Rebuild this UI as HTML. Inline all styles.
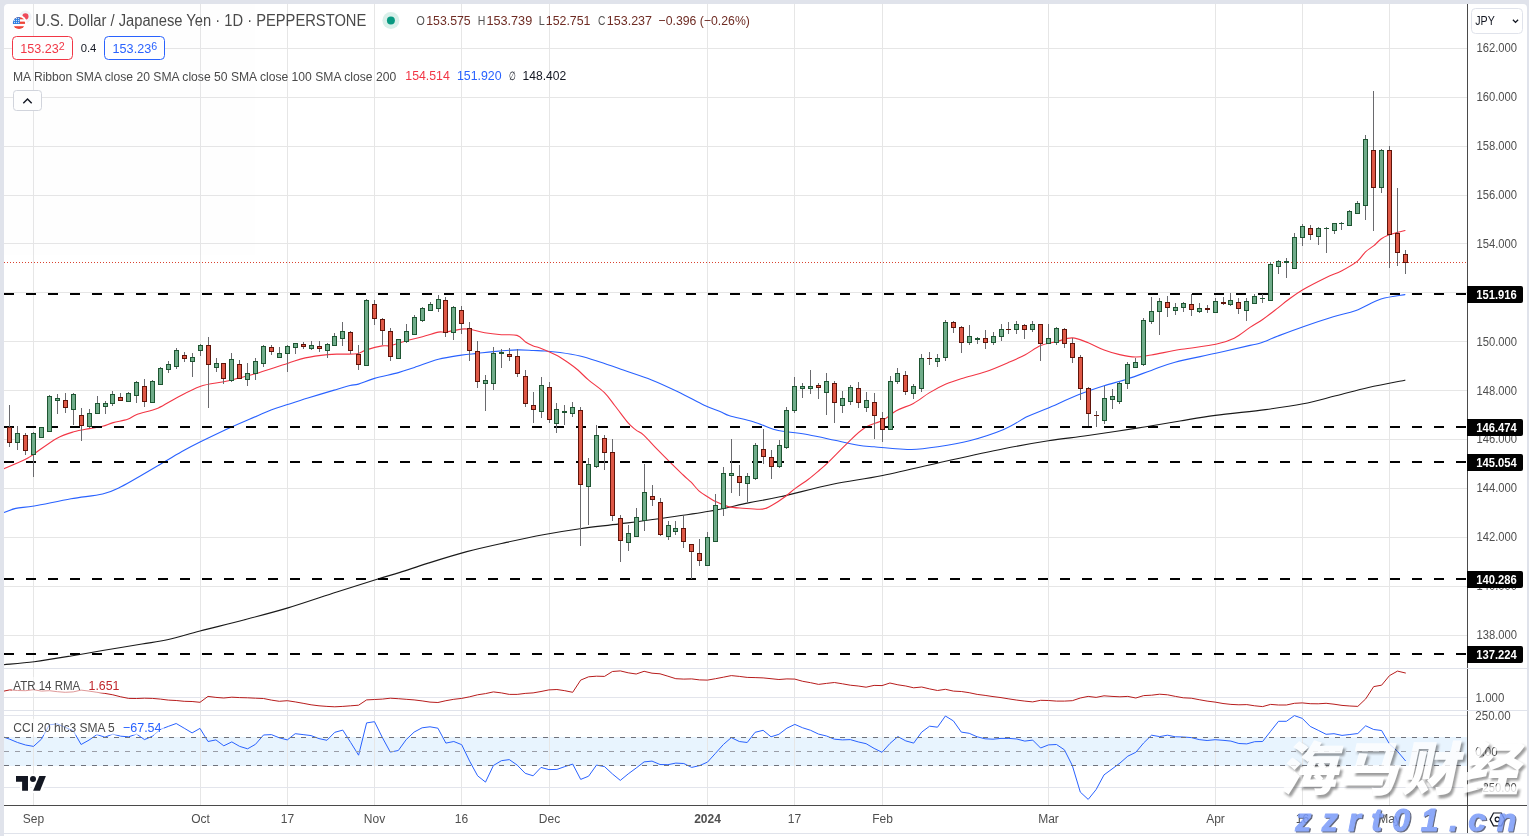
<!DOCTYPE html>
<html lang="en"><head><meta charset="utf-8"><title>USDJPY chart</title>
<style>html,body{margin:0;padding:0;background:#e0e3eb;}body{width:1529px;height:836px;position:relative;overflow:hidden;font-family:"Liberation Sans", Arial, sans-serif;}</style>
</head><body>
<svg width="1529" height="836" viewBox="0 0 1529 836" style="display:block;position:absolute;left:0;top:0;will-change:transform;opacity:0.9999" font-family='"Liberation Sans", Arial, sans-serif'>
<rect x="0" y="0" width="1529" height="836" fill="#e0e3eb"/>
<rect x="4" y="4" width="1523" height="832" fill="#ffffff"/>
<rect x="4" y="737" width="1463" height="29" fill="#e8f4fe"/>
<g fill="#e6e6e6" shape-rendering="crispEdges">
<rect x="33" y="4" width="1" height="801"/>
<rect x="200" y="4" width="1" height="801"/>
<rect x="287" y="4" width="1" height="801"/>
<rect x="374" y="4" width="1" height="801"/>
<rect x="461" y="4" width="1" height="801"/>
<rect x="549" y="4" width="1" height="801"/>
<rect x="707" y="4" width="1" height="801"/>
<rect x="794" y="4" width="1" height="801"/>
<rect x="882" y="4" width="1" height="801"/>
<rect x="1048" y="4" width="1" height="801"/>
<rect x="1215" y="4" width="1" height="801"/>
<rect x="1302" y="4" width="1" height="801"/>
<rect x="1389" y="4" width="1" height="801"/>
<rect x="4" y="48" width="1463" height="1"/>
<rect x="4" y="97" width="1463" height="1"/>
<rect x="4" y="146" width="1463" height="1"/>
<rect x="4" y="195" width="1463" height="1"/>
<rect x="4" y="243" width="1463" height="1"/>
<rect x="4" y="292" width="1463" height="1"/>
<rect x="4" y="341" width="1463" height="1"/>
<rect x="4" y="390" width="1463" height="1"/>
<rect x="4" y="439" width="1463" height="1"/>
<rect x="4" y="488" width="1463" height="1"/>
<rect x="4" y="537" width="1463" height="1"/>
<rect x="4" y="586" width="1463" height="1"/>
<rect x="4" y="635" width="1463" height="1"/>
<rect x="4" y="697" width="1463" height="1" fill="#e3e5ec"/>
<rect x="4" y="715" width="1463" height="1" fill="#e3e5ec"/>
<rect x="4" y="787" width="1463" height="1" fill="#e3e5ec"/>
</g>
<g fill="#e0e3eb" shape-rendering="crispEdges"><rect x="4" y="668" width="1523" height="1"/><rect x="4" y="710" width="1523" height="1"/></g>
<path d="M3.9 664.7C9.0 664.2 23.0 663.2 34.2 661.8C45.4 660.3 59.6 657.9 71.0 656.0C82.4 654.1 90.8 652.5 102.6 650.5C114.4 648.5 131.0 645.8 142.0 644.0C153.0 642.2 158.7 641.7 168.4 639.5C178.1 637.3 187.3 634.3 200.0 631.0C212.7 627.7 230.0 623.6 244.7 619.7C259.4 615.9 272.6 612.5 288.0 607.9C303.4 603.3 322.1 596.7 336.8 592.0C351.5 587.3 365.8 582.8 376.3 579.5C386.8 576.2 391.5 575.1 400.0 572.4C408.5 569.7 416.3 566.9 427.4 563.4C438.5 559.9 453.6 555.1 466.8 551.6C480.0 548.1 493.6 545.2 506.3 542.4C519.0 539.6 530.9 537.0 543.2 534.7C555.5 532.4 567.3 530.5 580.0 528.7C592.7 526.9 606.3 525.6 619.5 523.9C632.7 522.2 644.1 520.8 659.0 518.7C673.9 516.6 694.1 513.9 709.0 511.3C723.9 508.7 736.6 505.3 748.4 502.9C760.2 500.5 766.0 499.9 780.0 496.8C794.0 493.7 815.5 487.8 832.6 484.2C849.7 480.6 862.9 479.5 882.6 475.5C902.3 471.5 930.8 464.5 951.0 460.0C971.2 455.5 987.5 451.9 1003.7 448.7C1019.9 445.5 1034.4 443.0 1048.4 440.8C1062.4 438.6 1073.4 437.6 1087.9 435.5C1102.4 433.4 1120.0 430.8 1135.3 428.4C1150.6 426.0 1166.7 423.2 1180.0 421.0C1193.3 418.8 1201.0 417.3 1215.3 415.4C1229.5 413.5 1250.8 411.5 1265.5 409.6C1280.2 407.7 1291.5 406.1 1303.2 403.8C1314.9 401.5 1324.9 398.5 1335.8 395.8C1346.7 393.1 1357.0 390.1 1368.5 387.5C1380.0 384.9 1398.8 381.4 1404.9 380.2" fill="none" stroke="#1a1a1a" stroke-width="1.15" stroke-linejoin="round" stroke-linecap="round"/>
<path d="M3.9 512.6C5.9 511.9 10.8 509.5 15.8 508.4C20.9 507.3 25.0 507.6 34.2 506.0C43.4 504.4 59.6 500.7 71.0 498.7C82.4 496.7 94.3 496.0 102.6 494.0C110.9 492.0 114.4 490.0 121.0 486.8C127.6 483.6 134.5 479.3 142.0 475.0C149.5 470.7 158.8 465.1 165.8 461.0C172.8 456.9 178.5 453.4 184.2 450.3C189.9 447.2 193.2 445.5 200.0 442.1C206.8 438.7 216.7 433.9 225.0 430.0C233.3 426.1 242.3 422.3 250.0 419.0C257.7 415.7 264.8 412.4 271.0 410.0C277.2 407.6 281.2 406.6 287.4 404.6C293.5 402.6 300.1 400.4 307.9 398.0C315.7 395.6 327.2 392.2 334.2 390.1C341.2 388.0 346.0 386.5 350.0 385.5C354.0 384.5 354.3 385.3 358.4 384.1C362.5 382.9 367.8 380.3 374.5 378.4C381.2 376.5 391.7 374.4 398.4 372.6C405.1 370.8 407.8 369.6 414.5 367.4C421.2 365.2 430.6 361.4 438.4 359.3C446.2 357.2 454.9 356.1 461.4 355.1C467.9 354.1 472.2 354.0 477.5 353.4C482.8 352.8 486.8 352.2 493.4 351.6C500.0 351.0 510.3 350.1 517.0 349.9C523.7 349.7 528.7 350.3 533.4 350.5C538.1 350.7 540.6 350.7 545.0 351.0C549.4 351.3 554.2 351.7 560.0 352.5C565.8 353.3 573.3 354.4 580.0 356.0C586.7 357.6 592.8 359.7 600.0 362.0C607.2 364.3 614.7 367.0 623.3 370.0C631.9 373.0 642.5 376.3 651.6 379.9C660.7 383.5 669.1 387.5 677.9 391.7C686.7 395.9 697.2 402.0 704.2 405.3C711.2 408.6 715.8 409.7 720.0 411.4C724.2 413.1 724.0 414.0 729.5 415.7C735.0 417.4 745.8 419.5 753.2 421.8C760.7 424.1 768.5 427.8 774.2 429.5C779.9 431.2 781.7 430.9 787.4 431.8C793.1 432.7 800.5 433.3 808.4 434.7C816.3 436.1 826.4 438.5 834.7 440.3C843.0 442.1 851.8 444.2 858.4 445.3C865.0 446.4 868.9 446.3 874.2 446.8C879.5 447.3 883.8 447.8 890.0 448.2C896.2 448.6 903.6 449.7 911.6 449.5C919.6 449.3 928.2 448.2 937.9 446.8C947.5 445.4 958.5 443.7 969.5 440.8C980.5 437.9 994.1 433.5 1003.7 429.5C1013.4 425.5 1020.0 420.2 1027.4 416.6C1034.9 413.0 1039.6 411.6 1048.4 407.9C1057.2 404.1 1071.0 397.8 1080.3 394.1C1089.6 390.4 1096.2 388.3 1104.1 385.8C1112.0 383.3 1119.7 381.5 1127.6 378.9C1135.5 376.3 1143.4 373.2 1151.3 370.4C1159.2 367.6 1164.2 365.0 1175.0 362.2C1185.8 359.4 1203.3 356.1 1215.8 353.3C1228.3 350.5 1242.5 347.1 1250.0 345.4C1257.5 343.7 1255.8 344.6 1260.5 343.0C1265.2 341.4 1270.9 338.7 1278.0 336.0C1285.1 333.3 1294.0 329.9 1303.2 326.7C1312.4 323.5 1324.5 319.4 1333.3 316.7C1342.1 314.0 1348.0 313.3 1356.0 310.4C1364.0 307.4 1372.8 301.6 1381.0 299.0C1389.2 296.4 1400.9 295.3 1404.9 294.6" fill="none" stroke="#2962ff" stroke-width="1.1" stroke-linejoin="round" stroke-linecap="round"/>
<path d="M3.9 468.7C7.4 467.2 20.1 461.9 25.0 459.5C29.9 457.1 28.3 457.7 33.6 454.2C38.9 450.7 49.9 442.1 56.6 438.4C63.3 434.7 68.2 433.4 73.7 431.8C79.2 430.2 84.7 429.5 89.5 428.6C94.3 427.7 98.6 427.3 102.6 426.3C106.5 425.3 109.0 423.8 113.2 422.6C117.4 421.4 123.7 420.7 127.6 419.3C131.5 417.9 131.8 416.4 136.8 414.5C141.9 412.6 151.3 410.9 157.9 408.2C164.5 405.4 169.3 401.6 176.3 398.0C183.3 394.4 192.1 389.1 200.0 386.4C207.9 383.7 217.1 383.2 223.7 381.8C230.3 380.4 234.2 379.2 239.5 377.9C244.8 376.5 247.3 376.1 255.3 373.7C263.3 371.3 279.1 366.0 287.4 363.4C295.7 360.8 298.6 359.4 305.3 357.9C312.0 356.4 321.8 355.2 327.6 354.6C333.4 354.0 335.1 354.2 340.0 354.1C344.9 354.0 352.7 354.5 357.1 353.8C361.5 353.1 362.1 351.2 366.3 349.9C370.5 348.6 378.1 346.6 382.1 345.9C386.1 345.2 386.3 346.4 390.4 345.5C394.4 344.6 401.0 342.2 406.4 340.7C411.8 339.2 417.2 338.1 422.5 336.7C427.8 335.3 434.6 332.9 438.4 332.1C442.2 331.3 441.7 332.6 445.5 332.1C449.3 331.6 457.4 329.6 461.4 329.1C465.4 328.6 465.6 328.6 469.5 329.2C473.4 329.8 479.4 331.9 484.7 332.8C490.0 333.7 496.0 334.3 501.4 334.7C506.8 335.1 513.0 334.2 517.0 335.4C521.0 336.6 522.8 340.2 525.5 342.0C528.2 343.8 531.0 344.9 533.4 345.9C535.8 346.9 536.2 346.4 540.0 347.9C543.8 349.4 551.3 352.6 556.0 355.0C560.7 357.4 564.4 360.0 568.0 362.5C571.6 365.0 574.5 367.1 577.9 370.0C581.3 372.9 584.0 376.2 588.4 379.9C592.8 383.6 599.8 388.1 604.2 392.4C608.6 396.7 610.8 400.5 614.7 405.5C618.7 410.5 624.4 418.5 627.9 422.6C631.4 426.7 633.2 427.8 635.8 429.9C638.4 432.0 640.2 431.9 643.7 435.1C647.2 438.3 652.6 444.6 656.8 448.9C661.0 453.2 664.3 456.4 668.7 460.8C673.1 465.2 679.5 471.4 683.2 475.0C686.9 478.6 688.5 479.6 691.1 482.2C693.7 484.8 696.2 488.4 698.9 490.8C701.6 493.2 704.7 494.9 707.5 496.7C710.3 498.5 712.0 499.9 715.5 501.5C719.0 503.1 723.7 505.5 728.2 506.6C732.7 507.7 736.9 507.8 742.6 508.2C748.3 508.6 757.6 509.6 762.4 509.1C767.2 508.7 767.9 507.5 771.6 505.5C775.3 503.5 780.8 499.9 784.7 497.0C788.7 494.1 791.3 491.4 795.3 488.4C799.2 485.4 804.3 482.3 808.4 479.2C812.5 476.1 816.4 472.7 819.6 470.0C822.8 467.3 822.6 467.8 827.4 463.2C832.2 458.6 842.3 447.9 848.4 442.1C854.5 436.3 858.4 431.9 864.2 428.2C870.0 424.5 877.9 422.9 883.2 420.0C888.6 417.1 891.3 413.5 896.3 410.7C901.3 407.9 907.9 406.4 913.4 403.4C918.9 400.4 923.9 396.1 929.2 392.9C934.5 389.7 939.9 386.7 945.4 384.3C950.9 381.9 955.4 380.5 962.1 378.4C968.8 376.3 977.8 374.4 985.5 371.8C993.2 369.2 1001.6 365.5 1008.2 362.6C1014.8 359.8 1019.9 357.6 1025.3 354.7C1030.7 351.8 1035.5 347.7 1040.7 345.5C1045.9 343.3 1051.1 342.9 1056.4 341.6C1061.7 340.3 1067.1 337.7 1072.4 337.9C1077.7 338.1 1082.9 340.8 1088.2 342.8C1093.5 344.8 1098.8 348.0 1104.1 350.0C1109.3 352.0 1114.5 353.4 1119.7 354.6C1124.9 355.8 1130.2 356.9 1135.5 357.0C1140.8 357.1 1143.6 356.3 1151.3 355.0C1159.0 353.7 1170.8 351.1 1181.6 349.3C1192.3 347.5 1207.0 346.2 1215.8 344.3C1224.6 342.4 1228.5 341.0 1234.2 338.2C1239.9 335.4 1245.2 330.6 1250.0 327.4C1254.8 324.2 1258.3 322.4 1263.0 319.2C1267.7 315.9 1273.8 311.1 1278.0 307.9C1282.2 304.7 1283.8 303.0 1287.9 300.0C1292.0 297.0 1296.0 293.8 1302.4 290.0C1308.8 286.2 1319.8 280.7 1326.3 277.5C1332.8 274.3 1336.2 273.6 1341.4 270.9C1346.6 268.2 1353.5 264.3 1357.5 261.1C1361.5 257.9 1362.8 254.3 1365.5 251.8C1368.2 249.3 1370.9 248.1 1373.6 245.9C1376.2 243.7 1378.8 240.6 1381.4 238.7C1384.1 236.8 1386.8 235.8 1389.5 234.7C1392.2 233.6 1394.9 233.1 1397.5 232.4C1400.1 231.7 1403.8 230.8 1405.0 230.5" fill="none" stroke="#f23645" stroke-width="1.1" stroke-linejoin="round" stroke-linecap="round"/>
<g stroke="#000" stroke-width="2" stroke-dasharray="10 12" shape-rendering="crispEdges">
<line x1="4" y1="294" x2="1467" y2="294"/>
<line x1="4" y1="427" x2="1467" y2="427"/>
<line x1="4" y1="462" x2="1467" y2="462"/>
<line x1="4" y1="579" x2="1467" y2="579"/>
<line x1="4" y1="654" x2="1467" y2="654"/>
</g>
<line x1="4" y1="262.5" x2="1467" y2="262.5" stroke="#d9422f" stroke-width="1" stroke-dasharray="1 2" shape-rendering="crispEdges"/>
<g fill="#6a6a6e" shape-rendering="crispEdges"><rect x="9" y="405" width="1" height="42"/><rect x="17" y="426" width="1" height="24"/><rect x="25" y="433" width="1" height="22"/><rect x="33" y="432" width="1" height="45"/><rect x="41" y="427" width="1" height="11"/><rect x="49" y="395" width="1" height="37"/><rect x="57" y="394" width="1" height="20"/><rect x="65" y="393" width="1" height="20"/><rect x="73" y="393" width="1" height="32"/><rect x="81" y="408" width="1" height="33"/><rect x="89" y="409" width="1" height="19"/><rect x="97" y="396" width="1" height="18"/><rect x="105" y="401" width="1" height="13"/><rect x="112" y="391" width="1" height="15"/><rect x="120" y="393" width="1" height="8"/><rect x="128" y="392" width="1" height="10"/><rect x="136" y="381" width="1" height="22"/><rect x="144" y="379" width="1" height="28"/><rect x="152" y="380" width="1" height="23"/><rect x="160" y="367" width="1" height="18"/><rect x="168" y="361" width="1" height="12"/><rect x="176" y="348" width="1" height="21"/><rect x="184" y="352" width="1" height="10"/><rect x="192" y="353" width="1" height="24"/><rect x="200" y="344" width="1" height="12"/><rect x="208" y="337" width="1" height="71"/><rect x="216" y="358" width="1" height="14"/><rect x="223" y="363" width="1" height="21"/><rect x="231" y="353" width="1" height="29"/><rect x="239" y="360" width="1" height="19"/><rect x="247" y="363" width="1" height="23"/><rect x="255" y="358" width="1" height="22"/><rect x="263" y="345" width="1" height="22"/><rect x="271" y="345" width="1" height="10"/><rect x="279" y="347" width="1" height="11"/><rect x="287" y="345" width="1" height="27"/><rect x="295" y="343" width="1" height="11"/><rect x="303" y="342" width="1" height="7"/><rect x="311" y="341" width="1" height="9"/><rect x="319" y="341" width="1" height="11"/><rect x="327" y="343" width="1" height="15"/><rect x="334" y="333" width="1" height="13"/><rect x="342" y="322" width="1" height="24"/><rect x="350" y="331" width="1" height="23"/><rect x="358" y="345" width="1" height="25"/><rect x="366" y="299" width="1" height="67"/><rect x="374" y="300" width="1" height="25"/><rect x="382" y="318" width="1" height="27"/><rect x="390" y="328" width="1" height="33"/><rect x="398" y="339" width="1" height="20"/><rect x="406" y="324" width="1" height="19"/><rect x="414" y="315" width="1" height="20"/><rect x="422" y="307" width="1" height="15"/><rect x="430" y="302" width="1" height="9"/><rect x="438" y="295" width="1" height="17"/><rect x="445" y="297" width="1" height="40"/><rect x="453" y="306" width="1" height="34"/><rect x="461" y="306" width="1" height="28"/><rect x="469" y="322" width="1" height="39"/><rect x="477" y="341" width="1" height="47"/><rect x="485" y="375" width="1" height="36"/><rect x="493" y="347" width="1" height="43"/><rect x="501" y="349" width="1" height="19"/><rect x="509" y="348" width="1" height="13"/><rect x="517" y="349" width="1" height="28"/><rect x="525" y="370" width="1" height="37"/><rect x="533" y="392" width="1" height="31"/><rect x="541" y="377" width="1" height="41"/><rect x="549" y="382" width="1" height="41"/><rect x="556" y="403" width="1" height="30"/><rect x="564" y="405" width="1" height="20"/><rect x="572" y="402" width="1" height="15"/><rect x="580" y="407" width="1" height="139"/><rect x="588" y="458" width="1" height="67"/><rect x="596" y="425" width="1" height="43"/><rect x="604" y="435" width="1" height="35"/><rect x="612" y="439" width="1" height="82"/><rect x="620" y="515" width="1" height="47"/><rect x="628" y="525" width="1" height="26"/><rect x="636" y="508" width="1" height="29"/><rect x="644" y="464" width="1" height="67"/><rect x="652" y="485" width="1" height="21"/><rect x="660" y="498" width="1" height="38"/><rect x="668" y="521" width="1" height="19"/><rect x="675" y="521" width="1" height="14"/><rect x="683" y="516" width="1" height="32"/><rect x="691" y="544" width="1" height="35"/><rect x="699" y="539" width="1" height="27"/><rect x="707" y="532" width="1" height="34"/><rect x="715" y="494" width="1" height="48"/><rect x="723" y="467" width="1" height="49"/><rect x="731" y="439" width="1" height="54"/><rect x="739" y="465" width="1" height="31"/><rect x="747" y="473" width="1" height="29"/><rect x="755" y="443" width="1" height="37"/><rect x="763" y="429" width="1" height="35"/><rect x="771" y="450" width="1" height="29"/><rect x="779" y="440" width="1" height="28"/><rect x="786" y="407" width="1" height="42"/><rect x="794" y="377" width="1" height="36"/><rect x="802" y="383" width="1" height="15"/><rect x="810" y="370" width="1" height="24"/><rect x="818" y="383" width="1" height="16"/><rect x="826" y="373" width="1" height="42"/><rect x="834" y="381" width="1" height="42"/><rect x="842" y="391" width="1" height="22"/><rect x="850" y="385" width="1" height="20"/><rect x="858" y="382" width="1" height="26"/><rect x="866" y="392" width="1" height="20"/><rect x="874" y="393" width="1" height="46"/><rect x="882" y="412" width="1" height="30"/><rect x="890" y="376" width="1" height="54"/><rect x="897" y="368" width="1" height="16"/><rect x="905" y="371" width="1" height="24"/><rect x="913" y="384" width="1" height="15"/><rect x="921" y="354" width="1" height="38"/><rect x="929" y="352" width="1" height="13"/><rect x="937" y="354" width="1" height="13"/><rect x="945" y="320" width="1" height="41"/><rect x="953" y="321" width="1" height="12"/><rect x="961" y="326" width="1" height="27"/><rect x="969" y="325" width="1" height="20"/><rect x="977" y="337" width="1" height="7"/><rect x="985" y="330" width="1" height="19"/><rect x="993" y="332" width="1" height="13"/><rect x="1001" y="324" width="1" height="17"/><rect x="1008" y="322" width="1" height="12"/><rect x="1016" y="321" width="1" height="13"/><rect x="1024" y="324" width="1" height="15"/><rect x="1032" y="321" width="1" height="11"/><rect x="1040" y="324" width="1" height="37"/><rect x="1048" y="324" width="1" height="20"/><rect x="1056" y="327" width="1" height="18"/><rect x="1064" y="328" width="1" height="20"/><rect x="1072" y="338" width="1" height="25"/><rect x="1080" y="355" width="1" height="45"/><rect x="1088" y="387" width="1" height="39"/><rect x="1096" y="411" width="1" height="16"/><rect x="1104" y="386" width="1" height="38"/><rect x="1112" y="389" width="1" height="20"/><rect x="1119" y="382" width="1" height="22"/><rect x="1127" y="362" width="1" height="27"/><rect x="1135" y="358" width="1" height="10"/><rect x="1143" y="318" width="1" height="48"/><rect x="1151" y="297" width="1" height="27"/><rect x="1159" y="298" width="1" height="37"/><rect x="1167" y="296" width="1" height="21"/><rect x="1175" y="303" width="1" height="12"/><rect x="1183" y="302" width="1" height="10"/><rect x="1191" y="294" width="1" height="22"/><rect x="1199" y="303" width="1" height="10"/><rect x="1207" y="305" width="1" height="8"/><rect x="1215" y="298" width="1" height="15"/><rect x="1223" y="297" width="1" height="8"/><rect x="1230" y="293" width="1" height="13"/><rect x="1238" y="298" width="1" height="16"/><rect x="1246" y="298" width="1" height="23"/><rect x="1254" y="294" width="1" height="10"/><rect x="1262" y="294" width="1" height="9"/><rect x="1270" y="262" width="1" height="39"/><rect x="1278" y="260" width="1" height="14"/><rect x="1286" y="258" width="1" height="20"/><rect x="1294" y="233" width="1" height="36"/><rect x="1302" y="224" width="1" height="22"/><rect x="1310" y="225" width="1" height="15"/><rect x="1318" y="227" width="1" height="18"/><rect x="1326" y="227" width="1" height="26"/><rect x="1334" y="223" width="1" height="11"/><rect x="1341" y="222" width="1" height="8"/><rect x="1349" y="210" width="1" height="16"/><rect x="1357" y="201" width="1" height="13"/><rect x="1365" y="135" width="1" height="85"/><rect x="1373" y="91" width="1" height="140"/><rect x="1381" y="149" width="1" height="44"/><rect x="1389" y="146" width="1" height="122"/><rect x="1397" y="188" width="1" height="78"/><rect x="1405" y="250" width="1" height="24"/></g>
<g fill="#70ac8a" stroke="#1e5532" stroke-width="1" shape-rendering="crispEdges"><rect x="15.5" y="433.5" width="4" height="9"/><rect x="31.5" y="433.5" width="4" height="21"/><rect x="39.5" y="427.5" width="4" height="10"/><rect x="47.5" y="396.5" width="4" height="35"/><rect x="55.5" y="398.5" width="4" height="2"/><rect x="71.5" y="394.5" width="4" height="15"/><rect x="87.5" y="413.5" width="4" height="13"/><rect x="95.5" y="403.5" width="4" height="10"/><rect x="103.5" y="403.5" width="4" height="3"/><rect x="110.5" y="394.5" width="4" height="9"/><rect x="126.5" y="393.5" width="4" height="8"/><rect x="134.5" y="382.5" width="4" height="13"/><rect x="150.5" y="381.5" width="4" height="21"/><rect x="158.5" y="368.5" width="4" height="16"/><rect x="166.5" y="364.5" width="4" height="5"/><rect x="174.5" y="350.5" width="4" height="16"/><rect x="190.5" y="357.5" width="4" height="4"/><rect x="198.5" y="345.5" width="4" height="5"/><rect x="214.5" y="363.5" width="4" height="4"/><rect x="229.5" y="359.5" width="4" height="21"/><rect x="245.5" y="373.5" width="4" height="6"/><rect x="253.5" y="361.5" width="4" height="12"/><rect x="261.5" y="346.5" width="4" height="17"/><rect x="277.5" y="353.5" width="4" height="4"/><rect x="285.5" y="346.5" width="4" height="7"/><rect x="293.5" y="343.5" width="4" height="4"/><rect x="309.5" y="345.5" width="4" height="3"/><rect x="325.5" y="344.5" width="4" height="6"/><rect x="332.5" y="336.5" width="4" height="9"/><rect x="340.5" y="331.5" width="4" height="7"/><rect x="364.5" y="300.5" width="4" height="65"/><rect x="396.5" y="339.5" width="4" height="19"/><rect x="404.5" y="331.5" width="4" height="10"/><rect x="412.5" y="317.5" width="4" height="17"/><rect x="420.5" y="308.5" width="4" height="12"/><rect x="428.5" y="304.5" width="4" height="6"/><rect x="436.5" y="299.5" width="4" height="9"/><rect x="451.5" y="307.5" width="4" height="25"/><rect x="483.5" y="380.5" width="4" height="3"/><rect x="491.5" y="353.5" width="4" height="30"/><rect x="499.5" y="352.5" width="4" height="1"/><rect x="539.5" y="385.5" width="4" height="26"/><rect x="554.5" y="409.5" width="4" height="14"/><rect x="562.5" y="411.5" width="4" height="1"/><rect x="570.5" y="407.5" width="4" height="6"/><rect x="586.5" y="464.5" width="4" height="22"/><rect x="594.5" y="435.5" width="4" height="31"/><rect x="626.5" y="533.5" width="4" height="9"/><rect x="634.5" y="517.5" width="4" height="19"/><rect x="642.5" y="492.5" width="4" height="28"/><rect x="666.5" y="525.5" width="4" height="11"/><rect x="673.5" y="528.5" width="4" height="3"/><rect x="705.5" y="537.5" width="4" height="28"/><rect x="713.5" y="505.5" width="4" height="36"/><rect x="721.5" y="473.5" width="4" height="35"/><rect x="729.5" y="473.5" width="4" height="2"/><rect x="745.5" y="476.5" width="4" height="7"/><rect x="753.5" y="445.5" width="4" height="33"/><rect x="777.5" y="445.5" width="4" height="21"/><rect x="784.5" y="410.5" width="4" height="37"/><rect x="792.5" y="386.5" width="4" height="24"/><rect x="800.5" y="386.5" width="4" height="2"/><rect x="808.5" y="386.5" width="4" height="2"/><rect x="824.5" y="381.5" width="4" height="11"/><rect x="840.5" y="398.5" width="4" height="7"/><rect x="848.5" y="387.5" width="4" height="14"/><rect x="864.5" y="400.5" width="4" height="7"/><rect x="888.5" y="381.5" width="4" height="48"/><rect x="895.5" y="373.5" width="4" height="8"/><rect x="911.5" y="386.5" width="4" height="7"/><rect x="919.5" y="358.5" width="4" height="30"/><rect x="935.5" y="358.5" width="4" height="3"/><rect x="943.5" y="322.5" width="4" height="35"/><rect x="967.5" y="336.5" width="4" height="6"/><rect x="975.5" y="338.5" width="4" height="1"/><rect x="991.5" y="336.5" width="4" height="6"/><rect x="999.5" y="329.5" width="4" height="7"/><rect x="1014.5" y="324.5" width="4" height="5"/><rect x="1030.5" y="324.5" width="4" height="5"/><rect x="1046.5" y="338.5" width="4" height="5"/><rect x="1054.5" y="328.5" width="4" height="14"/><rect x="1102.5" y="398.5" width="4" height="22"/><rect x="1110.5" y="396.5" width="4" height="3"/><rect x="1117.5" y="383.5" width="4" height="18"/><rect x="1125.5" y="364.5" width="4" height="19"/><rect x="1133.5" y="362.5" width="4" height="5"/><rect x="1141.5" y="320.5" width="4" height="44"/><rect x="1149.5" y="311.5" width="4" height="10"/><rect x="1157.5" y="301.5" width="4" height="10"/><rect x="1173.5" y="307.5" width="4" height="3"/><rect x="1181.5" y="303.5" width="4" height="4"/><rect x="1197.5" y="308.5" width="4" height="3"/><rect x="1213.5" y="301.5" width="4" height="11"/><rect x="1228.5" y="300.5" width="4" height="4"/><rect x="1244.5" y="301.5" width="4" height="9"/><rect x="1252.5" y="296.5" width="4" height="7"/><rect x="1268.5" y="264.5" width="4" height="36"/><rect x="1276.5" y="261.5" width="4" height="5"/><rect x="1284.5" y="261.5" width="4" height="1"/><rect x="1292.5" y="237.5" width="4" height="31"/><rect x="1300.5" y="226.5" width="4" height="11"/><rect x="1316.5" y="228.5" width="4" height="8"/><rect x="1332.5" y="223.5" width="4" height="7"/><rect x="1347.5" y="211.5" width="4" height="14"/><rect x="1355.5" y="203.5" width="4" height="10"/><rect x="1363.5" y="139.5" width="4" height="66"/><rect x="1379.5" y="150.5" width="4" height="37"/></g>
<g fill="#de5846" stroke="#5f140a" stroke-width="1" shape-rendering="crispEdges"><rect x="7.5" y="427.5" width="4" height="15"/><rect x="23.5" y="435.5" width="4" height="15"/><rect x="63.5" y="400.5" width="4" height="7"/><rect x="79.5" y="415.5" width="4" height="10"/><rect x="118.5" y="397.5" width="4" height="3"/><rect x="142.5" y="386.5" width="4" height="15"/><rect x="182.5" y="355.5" width="4" height="3"/><rect x="206.5" y="345.5" width="4" height="19"/><rect x="221.5" y="363.5" width="4" height="15"/><rect x="237.5" y="364.5" width="4" height="14"/><rect x="269.5" y="347.5" width="4" height="4"/><rect x="301.5" y="344.5" width="4" height="2"/><rect x="317.5" y="346.5" width="4" height="2"/><rect x="348.5" y="332.5" width="4" height="18"/><rect x="356.5" y="354.5" width="4" height="10"/><rect x="372.5" y="304.5" width="4" height="14"/><rect x="380.5" y="319.5" width="4" height="11"/><rect x="388.5" y="331.5" width="4" height="25"/><rect x="443.5" y="300.5" width="4" height="32"/><rect x="459.5" y="310.5" width="4" height="13"/><rect x="467.5" y="328.5" width="4" height="22"/><rect x="475.5" y="351.5" width="4" height="30"/><rect x="507.5" y="354.5" width="4" height="2"/><rect x="515.5" y="356.5" width="4" height="17"/><rect x="523.5" y="376.5" width="4" height="27"/><rect x="531.5" y="405.5" width="4" height="4"/><rect x="547.5" y="387.5" width="4" height="32"/><rect x="578.5" y="410.5" width="4" height="74"/><rect x="602.5" y="438.5" width="4" height="14"/><rect x="610.5" y="452.5" width="4" height="63"/><rect x="618.5" y="518.5" width="4" height="22"/><rect x="650.5" y="496.5" width="4" height="3"/><rect x="658.5" y="502.5" width="4" height="32"/><rect x="681.5" y="528.5" width="4" height="13"/><rect x="689.5" y="544.5" width="4" height="7"/><rect x="697.5" y="553.5" width="4" height="7"/><rect x="737.5" y="476.5" width="4" height="6"/><rect x="761.5" y="449.5" width="4" height="7"/><rect x="769.5" y="457.5" width="4" height="9"/><rect x="816.5" y="385.5" width="4" height="2"/><rect x="832.5" y="383.5" width="4" height="19"/><rect x="856.5" y="388.5" width="4" height="14"/><rect x="872.5" y="402.5" width="4" height="13"/><rect x="880.5" y="418.5" width="4" height="11"/><rect x="903.5" y="375.5" width="4" height="16"/><rect x="951.5" y="322.5" width="4" height="5"/><rect x="959.5" y="327.5" width="4" height="15"/><rect x="983.5" y="338.5" width="4" height="4"/><rect x="1022.5" y="325.5" width="4" height="4"/><rect x="1038.5" y="324.5" width="4" height="19"/><rect x="1062.5" y="329.5" width="4" height="14"/><rect x="1070.5" y="343.5" width="4" height="14"/><rect x="1078.5" y="357.5" width="4" height="31"/><rect x="1086.5" y="388.5" width="4" height="25"/><rect x="1165.5" y="302.5" width="4" height="5"/><rect x="1189.5" y="304.5" width="4" height="5"/><rect x="1205.5" y="308.5" width="4" height="1"/><rect x="1221.5" y="302.5" width="4" height="1"/><rect x="1236.5" y="302.5" width="4" height="6"/><rect x="1308.5" y="228.5" width="4" height="6"/><rect x="1371.5" y="150.5" width="4" height="37"/><rect x="1387.5" y="150.5" width="4" height="84"/><rect x="1395.5" y="233.5" width="4" height="19"/><rect x="1403.5" y="254.5" width="4" height="8"/></g>
<g shape-rendering="crispEdges"><rect x="927" y="358" width="5" height="1" fill="#5f140a"/><rect x="1006" y="329" width="5" height="1" fill="#5f140a"/><rect x="1094" y="415" width="5" height="1" fill="#5f140a"/><rect x="1260" y="298" width="5" height="1" fill="#1e5532"/><rect x="1324" y="228" width="5" height="1" fill="#1e5532"/><rect x="1339" y="223" width="5" height="1" fill="#1e5532"/></g>
<polyline points="4.0,691.1 9.7,689.9 17.6,690.5 25.6,690.7 33.5,689.7 41.4,691.1 49.4,690.7 57.3,691.7 65.2,692.3 73.2,691.9 81.1,690.1 89.0,691.1 96.9,692.3 104.9,693.4 112.8,694.8 120.7,696.8 128.7,698.4 136.6,698.5 144.5,698.2 152.4,698.4 160.4,699.1 168.3,700.1 176.2,700.5 184.2,701.3 192.1,701.5 200.0,702.3 208.0,696.4 215.9,697.4 223.8,698.0 231.8,697.2 239.7,697.6 247.6,697.8 255.5,698.2 263.5,698.5 271.4,700.1 279.3,701.3 287.3,700.7 295.2,701.9 303.1,703.3 311.1,704.8 319.0,705.8 326.9,706.4 334.8,706.8 342.8,706.4 350.7,705.8 358.6,705.2 366.6,699.9 374.5,699.5 382.4,699.1 390.3,698.2 398.3,698.7 406.2,699.3 414.1,699.9 422.1,700.9 430.0,702.1 437.9,702.5 445.9,700.7 453.8,699.3 461.7,698.4 469.6,696.8 477.6,694.8 485.5,693.6 493.4,691.9 501.4,692.9 509.3,694.4 517.2,694.4 525.2,693.4 533.1,692.9 541.0,691.5 548.9,689.9 556.9,689.5 564.8,690.7 572.7,692.3 580.7,680.1 588.6,676.8 596.5,676.2 604.5,676.4 612.4,671.5 620.3,670.9 628.2,672.8 636.2,674.0 644.1,671.3 652.0,673.2 660.0,673.8 667.9,676.2 675.8,678.7 683.8,679.1 691.7,678.9 699.6,679.9 707.5,680.1 715.5,678.7 723.4,677.2 731.3,675.6 739.3,676.4 747.2,677.4 755.1,677.6 763.1,677.9 771.0,678.7 778.9,679.5 786.9,678.9 794.8,679.1 802.7,681.3 810.6,682.7 818.6,684.4 826.5,683.4 834.4,682.5 842.4,683.8 850.3,685.2 858.2,686.0 866.1,687.2 874.1,685.4 882.0,685.6 889.9,683.0 897.9,684.8 905.8,686.0 913.7,687.8 921.7,687.0 929.6,688.9 937.5,690.5 945.4,689.3 953.4,691.1 961.3,691.5 969.2,692.7 977.2,694.4 985.1,695.4 993.0,696.6 1001.0,697.6 1008.9,698.9 1016.8,700.1 1024.8,701.1 1032.7,701.9 1040.6,700.3 1048.5,700.5 1056.5,701.1 1064.4,701.1 1072.3,700.7 1080.3,698.0 1088.2,696.4 1096.1,697.4 1104.0,695.8 1112.0,696.4 1119.9,696.8 1127.8,696.4 1135.8,698.0 1143.7,695.6 1151.6,695.2 1159.6,694.2 1167.5,694.8 1175.4,696.4 1183.3,697.8 1191.3,698.2 1199.2,699.7 1207.1,701.1 1215.1,702.1 1223.0,703.5 1230.9,704.4 1238.9,704.8 1246.8,704.6 1254.7,705.8 1262.6,706.6 1270.6,704.4 1278.5,705.0 1286.4,705.0 1294.4,703.3 1302.3,702.9 1310.2,703.7 1318.2,703.8 1326.1,703.3 1334.0,704.2 1342.0,705.4 1349.9,706.0 1357.8,706.4 1365.7,698.9 1373.7,686.6 1381.6,685.2 1389.5,675.6 1397.5,671.1 1405.4,673.0" fill="none" stroke="#b71c1c" stroke-width="1.0" stroke-linejoin="round" stroke-linecap="round" />
<polyline points="4.0,737.2 9.7,739.2 17.6,742.5 25.6,745.0 33.5,746.4 41.4,739.2 49.4,724.8 57.3,723.9 65.2,727.4 73.2,730.7 81.1,744.5 89.0,740.1 96.9,734.6 104.9,737.2 112.8,734.1 120.7,736.2 128.7,736.8 136.6,734.1 144.5,739.6 152.4,736.2 160.4,729.4 168.3,726.4 176.2,723.5 184.2,728.2 192.1,732.9 200.0,728.4 208.0,741.5 215.9,739.9 223.8,745.8 231.8,741.9 239.7,746.4 247.6,748.8 255.5,744.3 263.5,735.0 271.4,734.6 279.3,737.8 287.3,739.9 295.2,733.7 303.1,734.6 311.1,735.6 319.0,738.6 326.9,740.3 334.8,732.3 342.8,730.1 350.7,742.5 358.6,755.2 366.6,722.9 374.5,721.7 382.4,737.6 390.3,752.1 398.3,750.5 406.2,739.6 414.1,732.1 422.1,727.8 430.0,726.8 437.9,728.2 445.9,743.1 453.8,741.5 461.7,744.7 469.6,761.1 477.6,775.8 485.5,782.1 493.4,765.5 501.4,760.7 509.3,759.6 517.2,765.1 525.2,773.3 533.1,775.8 541.0,767.4 548.9,769.6 556.9,769.4 564.8,766.6 572.7,764.1 580.7,779.4 588.6,776.2 596.5,765.1 604.5,766.6 612.4,773.9 620.3,780.4 628.2,773.9 636.2,768.0 644.1,761.9 652.0,761.1 660.0,764.5 667.9,764.7 675.8,763.1 683.8,763.5 691.7,767.4 699.6,765.6 707.5,762.1 715.5,753.3 723.4,744.5 731.3,737.6 739.3,741.5 747.2,742.5 755.1,732.3 763.1,730.3 771.0,736.8 778.9,734.3 786.9,728.2 794.8,724.4 802.7,727.8 810.6,730.3 818.6,734.1 826.5,736.0 834.4,739.2 842.4,739.9 850.3,739.6 858.2,741.9 866.1,743.7 874.1,748.4 882.0,752.3 889.9,743.5 897.9,736.6 905.8,740.9 913.7,743.1 921.7,732.1 929.6,726.2 937.5,727.2 945.4,716.0 953.4,720.9 961.3,732.1 969.2,733.3 977.2,736.8 985.1,738.8 993.0,739.2 1001.0,738.4 1008.9,738.4 1016.8,739.0 1024.8,741.1 1032.7,740.1 1040.6,748.0 1048.5,744.9 1056.5,744.5 1064.4,749.8 1072.3,765.5 1080.3,792.1 1088.2,799.4 1096.1,789.6 1104.0,774.9 1112.0,769.0 1119.9,763.1 1127.8,756.2 1135.8,752.3 1143.7,742.9 1151.6,735.2 1159.6,736.6 1167.5,735.2 1175.4,736.8 1183.3,737.0 1191.3,737.6 1199.2,739.6 1207.1,740.5 1215.1,739.7 1223.0,740.3 1230.9,741.1 1238.9,743.5 1246.8,743.9 1254.7,741.7 1262.6,741.5 1270.6,731.3 1278.5,721.3 1286.4,721.3 1294.4,715.6 1302.3,718.4 1310.2,726.4 1318.2,730.3 1326.1,734.3 1334.0,733.7 1342.0,735.4 1349.9,734.5 1357.8,733.5 1365.7,725.8 1373.7,729.5 1381.6,730.5 1389.5,744.1 1397.5,751.3 1405.4,760.7" fill="none" stroke="#2962ff" stroke-width="1.0" stroke-linejoin="round" stroke-linecap="round" />
<g stroke-width="1" stroke-dasharray="5 6" shape-rendering="crispEdges">
<line x1="4" y1="737.5" x2="1467" y2="737.5" stroke="#6f727b"/>
<line x1="4" y1="751.5" x2="1467" y2="751.5" stroke="#9a9da6"/>
<line x1="4" y1="765.5" x2="1467" y2="765.5" stroke="#6f727b"/>
</g>
<g fill="#4a4a4a" shape-rendering="crispEdges"><rect x="1467" y="4" width="1" height="829"/><rect x="4" y="805" width="1523" height="1"/></g>
<g fill="#e0e3eb" shape-rendering="crispEdges"><rect x="1467" y="668" width="1" height="1"/><rect x="1467" y="710" width="1" height="1"/></g>
<text x="1476.4" y="52.1" font-size="12" fill="#4f4f4f" font-weight="normal" text-anchor="start" textLength="40.6" lengthAdjust="spacingAndGlyphs" >162.000</text>
<text x="1476.4" y="101.02" font-size="12" fill="#4f4f4f" font-weight="normal" text-anchor="start" textLength="40.6" lengthAdjust="spacingAndGlyphs" >160.000</text>
<text x="1476.4" y="149.94" font-size="12" fill="#4f4f4f" font-weight="normal" text-anchor="start" textLength="40.6" lengthAdjust="spacingAndGlyphs" >158.000</text>
<text x="1476.4" y="198.85999999999999" font-size="12" fill="#4f4f4f" font-weight="normal" text-anchor="start" textLength="40.6" lengthAdjust="spacingAndGlyphs" >156.000</text>
<text x="1476.4" y="247.78" font-size="12" fill="#4f4f4f" font-weight="normal" text-anchor="start" textLength="40.6" lengthAdjust="spacingAndGlyphs" >154.000</text>
<text x="1476.4" y="296.7" font-size="12" fill="#4f4f4f" font-weight="normal" text-anchor="start" textLength="40.6" lengthAdjust="spacingAndGlyphs" >152.000</text>
<text x="1476.4" y="345.61999999999995" font-size="12" fill="#4f4f4f" font-weight="normal" text-anchor="start" textLength="40.6" lengthAdjust="spacingAndGlyphs" >150.000</text>
<text x="1476.4" y="394.53999999999996" font-size="12" fill="#4f4f4f" font-weight="normal" text-anchor="start" textLength="40.6" lengthAdjust="spacingAndGlyphs" >148.000</text>
<text x="1476.4" y="443.46" font-size="12" fill="#4f4f4f" font-weight="normal" text-anchor="start" textLength="40.6" lengthAdjust="spacingAndGlyphs" >146.000</text>
<text x="1476.4" y="492.38" font-size="12" fill="#4f4f4f" font-weight="normal" text-anchor="start" textLength="40.6" lengthAdjust="spacingAndGlyphs" >144.000</text>
<text x="1476.4" y="541.3000000000001" font-size="12" fill="#4f4f4f" font-weight="normal" text-anchor="start" textLength="40.6" lengthAdjust="spacingAndGlyphs" >142.000</text>
<text x="1476.4" y="590.22" font-size="12" fill="#4f4f4f" font-weight="normal" text-anchor="start" textLength="40.6" lengthAdjust="spacingAndGlyphs" >140.000</text>
<text x="1476.4" y="639.14" font-size="12" fill="#4f4f4f" font-weight="normal" text-anchor="start" textLength="40.6" lengthAdjust="spacingAndGlyphs" >138.000</text>
<text x="1475.6" y="702.0" font-size="12" fill="#4f4f4f" font-weight="normal" text-anchor="start" textLength="28.7" lengthAdjust="spacingAndGlyphs" >1.000</text>
<text x="1475.3" y="719.9" font-size="12" fill="#4f4f4f" font-weight="normal" text-anchor="start" textLength="35.3" lengthAdjust="spacingAndGlyphs" >250.00</text>
<text x="1475.2" y="755.8" font-size="12" fill="#4f4f4f" font-weight="normal" text-anchor="start" textLength="22.6" lengthAdjust="spacingAndGlyphs" >0.00</text>
<text x="1475.9" y="791.7" font-size="12" fill="#4f4f4f" font-weight="normal" text-anchor="start" textLength="40.9" lengthAdjust="spacingAndGlyphs" >−250.00</text>
<path d="M1467 286h54a2 2 0 0 1 2 2v13a2 2 0 0 1 -2 2h-54z" fill="#000"/>
<text x="1476.2" y="299.1" font-size="12" fill="#fff" font-weight="bold" text-anchor="start" textLength="40.5" lengthAdjust="spacingAndGlyphs" >151.916</text>
<path d="M1467 419h54a2 2 0 0 1 2 2v13a2 2 0 0 1 -2 2h-54z" fill="#000"/>
<text x="1476.2" y="432.1" font-size="12" fill="#fff" font-weight="bold" text-anchor="start" textLength="40.5" lengthAdjust="spacingAndGlyphs" >146.474</text>
<path d="M1467 454h54a2 2 0 0 1 2 2v13a2 2 0 0 1 -2 2h-54z" fill="#000"/>
<text x="1476.2" y="467.1" font-size="12" fill="#fff" font-weight="bold" text-anchor="start" textLength="40.5" lengthAdjust="spacingAndGlyphs" >145.054</text>
<path d="M1467 571h54a2 2 0 0 1 2 2v13a2 2 0 0 1 -2 2h-54z" fill="#000"/>
<text x="1476.2" y="584.1" font-size="12" fill="#fff" font-weight="bold" text-anchor="start" textLength="40.5" lengthAdjust="spacingAndGlyphs" >140.286</text>
<path d="M1467 646h54a2 2 0 0 1 2 2v13a2 2 0 0 1 -2 2h-54z" fill="#000"/>
<text x="1476.2" y="659.1" font-size="12" fill="#fff" font-weight="bold" text-anchor="start" textLength="40.5" lengthAdjust="spacingAndGlyphs" >137.224</text>
<rect x="1471.5" y="8.5" width="51" height="25" rx="4" fill="#fff" stroke="#e0e3eb"/>
<text x="1475.3" y="25.2" font-size="12" fill="#131722" font-weight="normal" text-anchor="start" textLength="19.5" lengthAdjust="spacingAndGlyphs" >JPY</text>
<path d="M1512.9 19.8l2.6 2.6l2.6 -2.6" fill="none" stroke="#131722" stroke-width="1.3"/>
<text x="33.5" y="823.3" font-size="12" fill="#4f4f4f" font-weight="normal" text-anchor="middle" >Sep</text>
<text x="200.5" y="823.3" font-size="12" fill="#4f4f4f" font-weight="normal" text-anchor="middle" >Oct</text>
<text x="287.5" y="823.3" font-size="12" fill="#4f4f4f" font-weight="normal" text-anchor="middle" >17</text>
<text x="374.5" y="823.3" font-size="12" fill="#4f4f4f" font-weight="normal" text-anchor="middle" >Nov</text>
<text x="461.5" y="823.3" font-size="12" fill="#4f4f4f" font-weight="normal" text-anchor="middle" >16</text>
<text x="549.5" y="823.3" font-size="12" fill="#4f4f4f" font-weight="normal" text-anchor="middle" >Dec</text>
<text x="707.5" y="823.3" font-size="12" fill="#4f4f4f" font-weight="bold" text-anchor="middle" >2024</text>
<text x="794.5" y="823.3" font-size="12" fill="#4f4f4f" font-weight="normal" text-anchor="middle" >17</text>
<text x="882.5" y="823.3" font-size="12" fill="#4f4f4f" font-weight="normal" text-anchor="middle" >Feb</text>
<text x="1048.5" y="823.3" font-size="12" fill="#4f4f4f" font-weight="normal" text-anchor="middle" >Mar</text>
<text x="1215.5" y="823.3" font-size="12" fill="#4f4f4f" font-weight="normal" text-anchor="middle" >Apr</text>
<text x="1302.5" y="823.3" font-size="12" fill="#4f4f4f" font-weight="normal" text-anchor="middle" >16</text>
<text x="1389.5" y="823.3" font-size="12" fill="#4f4f4f" font-weight="normal" text-anchor="middle" >May</text>
<g transform="translate(1497.4 819.4)" fill="none" stroke="#131722" stroke-width="1.2"><path d="M-7.3 0L-3.9 -6.4H3.9L7.3 0L3.9 6.4H-3.9Z"/><circle r="2.2"/></g>
<g fill="#fff" stroke="#fff" stroke-width="4.4" stroke-linejoin="round"><path d="M16 776h12v14.8h-5.9v-9H16z"/><circle cx="33" cy="779" r="3"/><path d="M39.3 776h6.6l-5.9 14.8h-6.9z"/></g>
<g fill="#131722"><path d="M16 776h12v14.8h-5.9v-9H16z"/><circle cx="33" cy="779" r="3"/><path d="M39.3 776h6.6l-5.9 14.8h-6.9z"/></g>
<g>
<circle cx="25.3" cy="16.8" r="5.8" fill="#f3f5f9" stroke="#e8ebf2" stroke-width="0.6"/><circle cx="25.4" cy="16.4" r="3.1" fill="#ef4a5a"/>
<circle cx="19" cy="23" r="7.9" fill="#fff"/>
<clipPath id="usf"><circle cx="19" cy="23" r="6.1"/></clipPath>
<g clip-path="url(#usf)"><rect x="12" y="16" width="14" height="14" fill="#fff"/><rect x="12" y="17" width="14" height="2.3" fill="#ef4438"/><rect x="12" y="21.6" width="14" height="2.3" fill="#ef4438"/><rect x="12" y="26.2" width="14" height="3.8" fill="#ef4438"/><rect x="12" y="16" width="7.8" height="8" fill="#2a7de1"/><g fill="#fff"><circle cx="14.6" cy="18.6" r="0.55"/><circle cx="16.6" cy="18.6" r="0.55"/><circle cx="18.6" cy="18.6" r="0.55"/><circle cx="14.6" cy="20.6" r="0.55"/><circle cx="16.6" cy="20.6" r="0.55"/><circle cx="18.6" cy="20.6" r="0.55"/><circle cx="14.6" cy="22.6" r="0.55"/><circle cx="16.6" cy="22.6" r="0.55"/><circle cx="18.6" cy="22.6" r="0.55"/></g></g>
<text x="35.3" y="26" font-size="16" fill="#4a4a4a" font-weight="normal" text-anchor="start" textLength="331" lengthAdjust="spacingAndGlyphs" >U.S. Dollar / Japanese Yen · 1D · PEPPERSTONE</text>
<circle cx="390.9" cy="20.4" r="8.5" fill="#d9f0ea"/><circle cx="390.9" cy="20.4" r="4" fill="#089981"/>
<text x="416.3" y="25.4" font-size="13" fill="#555" font-weight="normal" text-anchor="start" textLength="8.6" lengthAdjust="spacingAndGlyphs" >O</text>
<text x="426.2" y="25.4" font-size="13" fill="#6e2b23" font-weight="normal" text-anchor="start" textLength="44.5" lengthAdjust="spacingAndGlyphs" >153.575</text>
<text x="477.8" y="25.4" font-size="13" fill="#555" font-weight="normal" text-anchor="start" textLength="7.6" lengthAdjust="spacingAndGlyphs" >H</text>
<text x="486.4" y="25.4" font-size="13" fill="#6e2b23" font-weight="normal" text-anchor="start" textLength="45.8" lengthAdjust="spacingAndGlyphs" >153.739</text>
<text x="538.7" y="25.4" font-size="13" fill="#555" font-weight="normal" text-anchor="start" textLength="6" lengthAdjust="spacingAndGlyphs" >L</text>
<text x="545.8" y="25.4" font-size="13" fill="#6e2b23" font-weight="normal" text-anchor="start" textLength="44.7" lengthAdjust="spacingAndGlyphs" >152.751</text>
<text x="598.1" y="25.4" font-size="13" fill="#555" font-weight="normal" text-anchor="start" textLength="7.4" lengthAdjust="spacingAndGlyphs" >C</text>
<text x="606.8" y="25.4" font-size="13" fill="#6e2b23" font-weight="normal" text-anchor="start" textLength="45.2" lengthAdjust="spacingAndGlyphs" >153.237</text>
<text x="658.6" y="25.4" font-size="13" fill="#6e2b23" font-weight="normal" text-anchor="start" textLength="91.3" lengthAdjust="spacingAndGlyphs" >−0.396 (−0.26%)</text>
<rect x="12" y="36" width="153" height="24" fill="#fff"/>
<rect x="12.5" y="36.5" width="60" height="23" rx="4" fill="#fff" stroke="#f23645"/>
<rect x="104.5" y="36.5" width="60" height="23" rx="4" fill="#fff" stroke="#2962ff"/>
<text x="20.3" y="53" font-size="13" fill="#f23645" textLength="44.5" lengthAdjust="spacingAndGlyphs">153.23<tspan dy="-3.4" font-size="11">2</tspan></text>
<text x="112.6" y="53" font-size="13" fill="#2962ff" textLength="44.5" lengthAdjust="spacingAndGlyphs">153.23<tspan dy="-3.4" font-size="11">6</tspan></text>
<text x="80.7" y="52.3" font-size="11" fill="#131722" font-weight="normal" text-anchor="start" textLength="15.7" lengthAdjust="spacingAndGlyphs" >0.4</text>
<text x="13" y="81" font-size="12.5" fill="#4a4a4a" font-weight="normal" text-anchor="start" textLength="383.2" lengthAdjust="spacingAndGlyphs" >MA Ribbon SMA close 20 SMA close 50 SMA close 100 SMA close 200</text>
<text x="405.3" y="80.4" font-size="13" fill="#f23645" font-weight="normal" text-anchor="start" textLength="44.5" lengthAdjust="spacingAndGlyphs" >154.514</text>
<text x="456.9" y="80.4" font-size="13" fill="#2962ff" font-weight="normal" text-anchor="start" textLength="44.7" lengthAdjust="spacingAndGlyphs" >151.920</text>
<text x="508.7" y="80.4" font-size="12" fill="#131722" font-weight="normal" text-anchor="start" textLength="6.5" lengthAdjust="spacingAndGlyphs" >∅</text>
<text x="522.5" y="80.4" font-size="13" fill="#131722" font-weight="normal" text-anchor="start" textLength="43.7" lengthAdjust="spacingAndGlyphs" >148.402</text>
<rect x="13.5" y="90.5" width="28" height="20" rx="3" fill="#fff" stroke="#d1d4dc"/>
<path d="M23.3 103.2l4.2 -4.2l4.2 4.2" fill="none" stroke="#131722" stroke-width="1.4"/>
<rect x="12" y="677" width="112" height="16" fill="#fff" fill-opacity="0.55"/>
<rect x="12" y="719" width="152" height="16" fill="#fff" fill-opacity="0.55"/>
<text x="13.3" y="690" font-size="12.5" fill="#4a4a4a" font-weight="normal" text-anchor="start" textLength="67" lengthAdjust="spacingAndGlyphs" >ATR 14 RMA</text>
<text x="88.5" y="690" font-size="13" fill="#c0282d" font-weight="normal" text-anchor="start" textLength="31" lengthAdjust="spacingAndGlyphs" >1.651</text>
<text x="13.3" y="732.2" font-size="12.5" fill="#4a4a4a" font-weight="normal" text-anchor="start" textLength="101.5" lengthAdjust="spacingAndGlyphs" >CCI 20 hlc3 SMA 5</text>
<text x="123" y="732.2" font-size="13" fill="#2962ff" font-weight="normal" text-anchor="start" textLength="38.5" lengthAdjust="spacingAndGlyphs" >−67.54</text>
</g>
<g opacity="0.8" font-family='"Noto Sans CJK SC","WenQuanYi Zen Hei",sans-serif' font-weight="900" font-size="58" letter-spacing="2.7">
<text x="1279" y="790.5" fill="#333" fill-opacity="0.6" transform="translate(2.2 2.2) skewX(-12)" style="filter:blur(0.8px)" transform-origin="1279 790.5">海马财经</text>
<text x="1279" y="790.5" fill="#ffffff" transform="skewX(-12)" transform-origin="1279 790.5">海马财经</text>
</g>
<g opacity="0.86" font-size="32" font-weight="bold" font-style="italic" stroke-width="1.0" stroke-linejoin="round">
<text x="1296.4" y="832.0" fill="#4a5068" stroke="#4a5068" textLength="221" lengthAdjust="spacing">zzrt01.cn</text>
<text x="1295.2" y="830.8" fill="#7b9bf9" stroke="#7b9bf9" textLength="221" lengthAdjust="spacing">zzrt01.cn</text>
</g>
<path fill-rule="evenodd" fill="#e0e3eb" d="M0 0H1529V836H0Z M8 4H1523a4 4 0 0 1 4 4V836H4V8a4 4 0 0 1 4 -4Z"/>
<rect x="4" y="833" width="1523" height="1" fill="#e0e3eb"/>
</svg>
</body></html>
